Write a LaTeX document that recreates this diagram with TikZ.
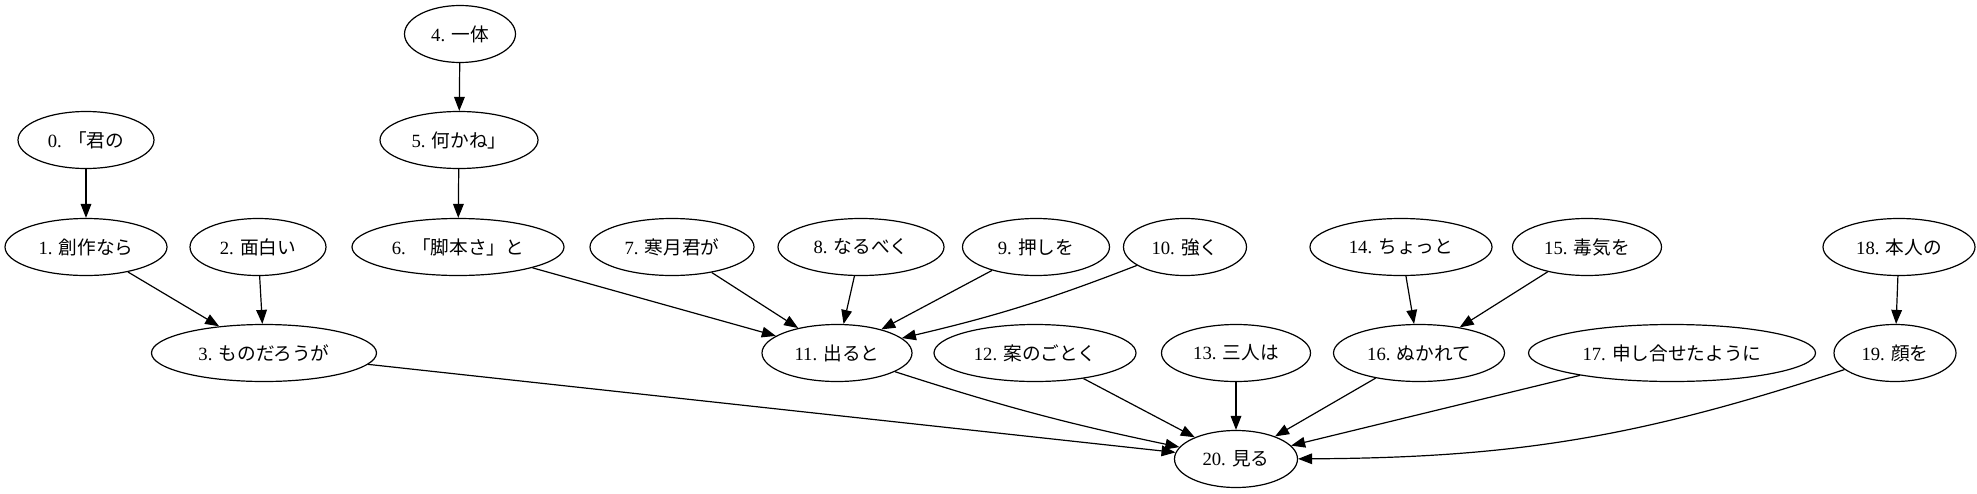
\documentclass[tikz,border=0pt]{standalone}
\usepackage{fontspec}
\setmainfont{Liberation Serif}
\newfontfamily\cjk{Noto Sans CJK JP}
\usepackage{tikz}
\usetikzlibrary{shapes.geometric, arrows.meta}

\newcommand{\tok}[2]{#1. {\cjk #2}}

\begin{document}
\begin{tikzpicture}[x = 0.75pt, y = -0.75pt,
  word/.style = {ellipse, draw, line width = 0.9pt, inner sep = 0pt,
    minimum height = 42.75pt, minimum width = #1*0.75pt,
    font = \fontsize{14pt}{16pt}\selectfont},
  dep/.style = {line width = 0.9pt, -{Triangle[length = 10.5pt, width = 8pt]}}]
\useasboundingbox (0,0) rectangle (1977,493);
\node[word = 111] (n4) at (460,34) {\tok{4}{一体}};
\node[word = 136] (n0) at (86,140) {\tok{0}{「君の}};
\node[word = 158] (n5) at (459,140) {\tok{5}{何かね」}};
\node[word = 162] (n1) at (86,247) {\tok{1}{創作なら}};
\node[word = 136] (n2) at (258,247) {\tok{2}{面白い}};
\node[word = 212] (n6) at (458,247) {\tok{6}{「脚本さ」と}};
\node[word = 164] (n7) at (672,247) {\tok{7}{寒月君が}};
\node[word = 166] (n8) at (861,247) {\tok{8}{なるべく}};
\node[word = 147] (n9) at (1036,247) {\tok{9}{押しを}};
\node[word = 123] (n10) at (1185,247) {\tok{10}{強く}};
\node[word = 182] (n14) at (1401,247) {\tok{14}{ちょっと}};
\node[word = 149] (n15) at (1587,247) {\tok{15}{毒気を}};
\node[word = 152] (n18) at (1899,247) {\tok{18}{本人の}};
\node[word = 225] (n3) at (264,353) {\tok{3}{ものだろうが}};
\node[word = 150] (n11) at (837,353) {\tok{11}{出ると}};
\node[word = 202] (n12) at (1035,353) {\tok{12}{案のごとく}};
\node[word = 149] (n13) at (1236,353) {\tok{13}{三人は}};
\node[word = 171] (n16) at (1419,353) {\tok{16}{ぬかれて}};
\node[word = 287] (n17) at (1672,353) {\tok{17}{申し合せたように}};
\node[word = 122] (n19) at (1895,353) {\tok{19}{顔を}};
\node[word = 123] (n20) at (1236,459) {\tok{20}{見る}};
\draw[dep] (n4) -- (n5);
\draw[dep] (n5) -- (n6);
\draw[dep] (n0) -- (n1);
\draw[dep] (n1) -- (n3);
\draw[dep] (n2) -- (n3);
\draw[dep] (n6) -- (n11);
\draw[dep] (n7) -- (n11);
\draw[dep] (n8) -- (n11);
\draw[dep] (n9) -- (n11);
\draw[dep] (n10) to[bend left = 4] (n11);
\draw[dep] (n14) -- (n16);
\draw[dep] (n15) -- (n16);
\draw[dep] (n18) -- (n19);
\draw[dep] (n3) -- (n20);
\draw[dep] (n11) to[bend right = 3] (n20);
\draw[dep] (n12) -- (n20);
\draw[dep] (n13) -- (n20);
\draw[dep] (n16) -- (n20);
\draw[dep] (n17) -- (n20);
\draw[dep] (n19) to[bend left = 9] (n20);
\end{tikzpicture}
\end{document}
